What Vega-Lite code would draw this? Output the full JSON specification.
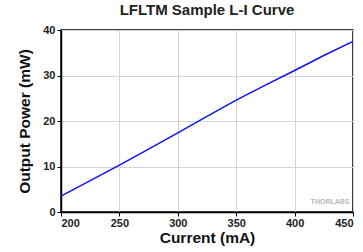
{
  "$schema": "https://vega.github.io/schema/vega-lite/v6.json",
  "width": 292,
  "height": 182,
  "autosize": {"type": "none"},
  "padding": {"left": 61, "top": 30, "right": 10, "bottom": 40},
  "background": "white",
  "title": {
    "text": "LFLTM Sample L-I Curve",
    "font": "Liberation Sans",
    "fontSize": 15,
    "fontWeight": "bold",
    "color": "#222222",
    "offset": 6,
    "anchor": "middle"
  },
  "config": {
    "view": {"stroke": "black", "strokeWidth": 1.5},
    "axis": {
      "labelFont": "Liberation Sans",
      "labelFontSize": 11,
      "labelFontWeight": "bold",
      "labelColor": "#222222",
      "titleFont": "Liberation Sans",
      "titleFontSize": 15.5,
      "titleFontWeight": "bold",
      "titleColor": "#111111",
      "gridColor": "#d4d4d4",
      "gridWidth": 1,
      "domainColor": "black",
      "domainWidth": 1.5,
      "tickColor": "black",
      "tickSize": 4
    }
  },
  "layer": [
    {
      "data": {
        "values": [
          {"current": 200, "power": 3.5},
          {"current": 225, "power": 6.9},
          {"current": 250, "power": 10.3},
          {"current": 275, "power": 13.8},
          {"current": 300, "power": 17.4},
          {"current": 325, "power": 21.0},
          {"current": 350, "power": 24.6},
          {"current": 375, "power": 27.9},
          {"current": 400, "power": 31.1},
          {"current": 425, "power": 34.4},
          {"current": 450, "power": 37.5}
        ]
      },
      "mark": {"type": "line", "color": "#0a14f0", "strokeWidth": 1.5},
      "encoding": {
        "x": {
          "field": "current",
          "type": "quantitative",
          "scale": {"domain": [200, 450], "nice": false, "zero": false},
          "axis": {
            "title": "Current (mA)",
            "values": [200, 225, 250, 275, 300, 325, 350, 375, 400, 425, 450],
            "labelExpr": "datum.value % 50 == 0 ? datum.label : ''",
            "labelPadding": 1,
            "titlePadding": 2
          }
        },
        "y": {
          "field": "power",
          "type": "quantitative",
          "scale": {"domain": [0, 40], "nice": false},
          "axis": {
            "title": "Output Power (mW)",
            "values": [0, 5, 10, 15, 20, 25, 30, 35, 40],
            "labelExpr": "datum.value % 10 == 0 ? datum.label : ''",
            "labelPadding": 2,
            "titlePadding": 10
          }
        }
      }
    },
    {
      "data": {"values": [{"current": 447, "power": 2.3, "label": "THORLABS"}]},
      "mark": {
        "type": "text",
        "align": "right",
        "baseline": "middle",
        "font": "Liberation Sans",
        "fontSize": 7,
        "fontWeight": "bold",
        "color": "#b8b8b8"
      },
      "encoding": {
        "x": {"field": "current", "type": "quantitative"},
        "y": {"field": "power", "type": "quantitative"},
        "text": {"field": "label"}
      }
    }
  ]
}
